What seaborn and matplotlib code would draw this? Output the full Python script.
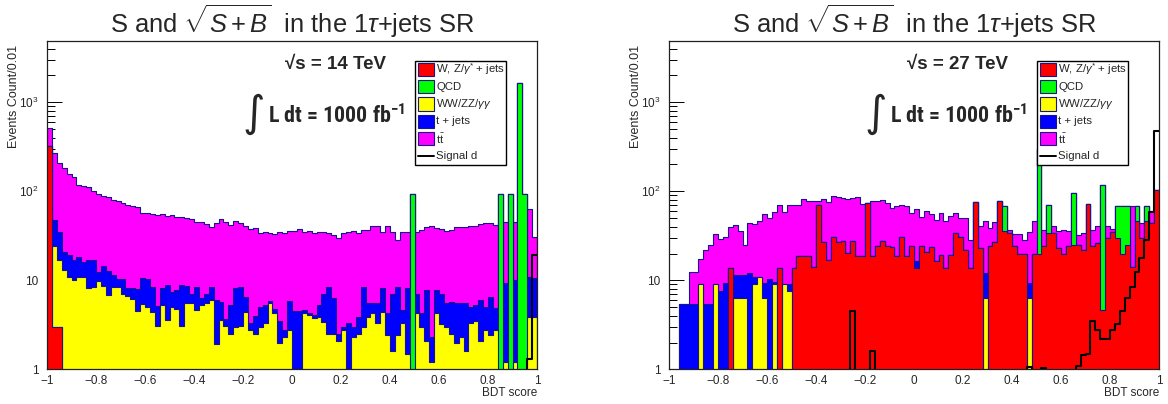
import numpy as np
import pandas as pd
import matplotlib
matplotlib.use('Agg')
import matplotlib.pyplot as plt
from matplotlib import font_manager
from matplotlib.patches import Rectangle
from matplotlib.lines import Line2D
from matplotlib.ticker import FixedLocator, MultipleLocator, LogLocator, NullFormatter
import seaborn as sns

# BDT score binning: 100 bins between -1 and 1
bdt_edges = np.linspace(-1, 1, 101)

process_labels = ['W, Z/$\\gamma^{*}$ + jets', 'QCD', 'WW/ZZ/$\\gamma\\gamma$', 't + jets', 't$\\bar{\\mathrm{t}}$']
process_colors = ['#ff0000', '#00ff00', '#ffff00', '#0000ff', '#ff00ff']
signal_label = 'Signal d'
energies = ['14', '27']
lumi_text = 'L dt = 1000 fb$^{\\mathbf{-1}}$'
title_text = 'S and $\\sqrt{S+B}$  in the 1$\\tau$+jets SR'

# ---- sqrt(s) = 14 TeV ----
wz_14 = [323, 3, 3, 0, 0, 0, 0, 0, 0, 0,
         0, 0, 0, 0, 0, 0, 0, 0, 0, 0,
         0, 0, 0, 0, 0, 0, 0, 0, 0, 0,
         0, 0, 0, 0, 0, 0, 0, 0, 0, 0,
         0, 0, 0, 0, 0, 0, 0, 0, 0, 0,
         0, 0, 0, 0, 0, 0, 0, 0, 0, 0,
         0, 0, 0, 0, 0, 0, 0, 0, 0, 0,
         0, 0, 0, 0, 0, 0, 0, 0, 0, 0,
         0, 0, 0, 0, 0, 0, 0, 0, 0, 0,
         0, 0, 0, 0, 0, 0, 0, 0, 0, 0]
qcd_14 = [0, 0, 0, 0, 0, 0, 0, 0, 0, 0,
          0, 0, 0, 0, 0, 0, 0, 0, 0, 0,
          0, 0, 0, 0, 0, 0, 0, 0, 0, 0,
          0, 0, 0, 0, 0, 0, 0, 0, 0, 0,
          0, 0, 0, 0, 0, 0, 0, 0, 0, 0,
          0, 0, 0, 0, 0, 0, 0, 0, 0, 0,
          0, 0, 0, 0, 0, 0, 0, 0, 0, 0,
          0, 0, 0, 0, 93, 0, 0, 0, 0, 0,
          0, 0, 0, 0, 0, 0, 0, 0, 0, 0,
          0, 0, 93, 0, 93, 0, 1630, 93, 0, 0]
ww_14 = [0, 21, 14, 13, 11, 10, 11, 11, 8.1, 8.5,
         9.7, 8.6, 6.8, 8.5, 8.4, 7.1, 6.7, 6.1, 4.5, 5.4,
         5.0, 4.4, 3.1, 5.3, 3.6, 5.0, 4.8, 3.1, 5.5, 5.5,
         4.6, 5.3, 5.5, 6.0, 1.9, 3.6, 3.1, 2.5, 3.0, 3.1,
         4.4, 2.8, 2.5, 3.0, 3.3, 5.5, 4.3, 2.0, 2.3, 2.8,
         0, 0, 4.3, 4.1, 3.8, 3.9, 3.4, 2.5, 2.5, 2.1,
         2.8, 1.0, 2.3, 2.5, 3.0, 3.9, 4.3, 3.3, 4.4, 2.4,
         1.6, 2.4, 3.3, 1.5, 0, 4.3, 3.0, 2.1, 1.2, 4.3,
         3.2, 3.0, 2.5, 2.0, 2.3, 1.6, 3.3, 3.5, 2.1, 2.8,
         2.4, 2.8, 0, 1.2, 0, 1.2, 0, 0, 3.9, 3.9]
tj_14 = [0, 23, 18, 8, 8, 7, 7.5, 5, 9, 8.5,
         2.8, 6, 6, 3, 2, 3.2, 1.5, 2, 3.4, 5.2,
         5.3, 4.1, 2, 2.8, 5.3, 2.4, 3, 5.8, 3.1, 1.6,
         3.9, 1, 1.6, 2.5, 4.1, 2.1, 0.6, 2.8, 5.1, 5.4,
         2.1, 0.5, 1.5, 2, 2, 0.3, 0.5, 1.5, 0.5, 3.1,
         4.5, 4.5, 0.3, 0.2, 0.3, 1.4, 3.7, 6, 3.8, 0.4,
         0.2, 2.3, 0.7, 1.4, 5.5, 1.6, 1.2, 2.2, 3.7, 1.9,
         5.5, 6.1, 1.3, 6.6, 0, 2.8, 1.3, 5.7, 1.1, 3.5,
         3.9, 2.5, 3.2, 3.5, 3.2, 3.9, 1.75, 1.8, 3.9, 2.25,
         4.1, 2.1, 0, 8.1, 0, 8.8, 0, 0, 7.1, 6.8]
tt_14 = [187, 220, 175, 160, 139, 129, 100, 100, 94, 85,
         80, 75, 74, 68, 67, 63, 62, 60, 58, 47,
         47, 47, 49, 47, 44, 47, 43, 43, 41, 42,
         37, 39, 35.5, 31, 38.5, 43, 42, 37, 38, 35.5,
         34, 34, 35, 29, 29.7, 28.3, 28.4, 31.5, 31, 29.6,
         31, 33.4, 30.4, 31.7, 29.6, 29.7, 27.4, 25.2, 25.7, 27.1,
         30.7, 31.2, 32.6, 30.1, 28.5, 31.5, 35.2, 35.2, 26.9, 36.7,
         27.9, 19.9, 30.4, 26.9, 0, 27.9, 32.7, 32.2, 38.7, 31.2,
         30.9, 30.5, 31.3, 34.5, 34.5, 34.5, 36, 35.7, 37, 39,
         37.5, 37.1, 0, 35.7, 0, 35, 0, 0, 52, 20.3]
sig_14 = [0] * 98 + [1.3, 19]

# ---- sqrt(s) = 27 TeV ----
wz_27 = [0, 0, 0, 0, 0, 0, 0, 0, 0, 0,
         0, 0, 13.6, 0, 0, 0, 0, 0, 0, 0,
         0, 0, 13.6, 0, 0, 13.6, 18.9, 18.9, 18.9, 14.2,
         70, 27.2, 16.9, 30.5, 26.6, 27.3, 20.2, 27.3, 18.8, 18.8,
         74, 18.8, 24, 27.3, 24, 23.6, 18.8, 30.3, 18.8, 24,
         13.7, 24, 21, 23.6, 16.3, 19.4, 13.7, 19.4, 34, 30.5,
         22, 13.7, 75, 23, 0, 24, 26.6, 77, 36, 34,
         24.4, 20, 20, 0, 20, 20, 24, 34, 34, 23,
         20, 24, 25, 25, 22, 72, 24, 26, 4.6, 30,
         35, 30, 20, 25, 14, 46, 30, 46, 44, 104]
qcd_27 = [0, 0, 0, 0, 0, 0, 0, 0, 0, 0,
          0, 0, 0, 0, 0, 0, 0, 0, 0, 0,
          0, 0, 0, 0, 0, 0, 0, 0, 0, 0,
          0, 0, 0, 0, 0, 0, 0, 0, 0, 0,
          0, 0, 0, 0, 0, 0, 0, 0, 0, 0,
          0, 0, 0, 0, 0, 0, 0, 0, 0, 0,
          0, 0, 0, 0, 0, 0, 0, 0, 33, 0,
          0, 0, 0, 0, 0, 280, 0, 36, 0, 0,
          0, 0, 70, 0, 0, 0, 0, 0, 112, 0,
          0, 39, 49, 44, 0, 23, 0, 23, 0, 0]
ww_27 = [0, 0, 0, 0, 0, 0, 9, 0, 0, 9,
         0, 0, 0, 6.4, 6.4, 6.4, 0, 9, 11, 6.3,
         0, 9, 0, 9, 7.6, 0, 0, 0, 0, 0,
         0, 0, 0, 0, 0, 0, 0, 0, 0, 0,
         0, 0, 0, 0, 0, 0, 0, 0, 0, 0,
         0, 0, 0, 0, 0, 0, 0, 0, 0, 0,
         0, 0, 0, 0, 6.4, 0, 0, 0, 0, 0,
         0, 0, 0, 6.3, 0, 0, 0, 0, 0, 0,
         0, 0, 0, 0, 0, 0, 0, 0, 0, 0,
         0, 0, 0, 0, 0, 0, 0, 0, 0, 0]
tj_27 = [0, 0, 5.4, 5.4, 5.4, 5.4, 0, 5.4, 5.4, 0,
         7.5, 9.3, 0, 5, 5, 5, 12, 2, 0, 3,
         10.3, 0.5, 0, 0, 1.5, 0, 0, 0, 0, 0,
         0, 0, 0, 0, 0, 0, 0, 0, 0, 0,
         0, 0, 0, 0, 0, 0, 0, 0, 0, 0,
         2.6, 0, 0, 0, 0, 0, 0, 0, 0, 0,
         0, 0, 0, 0, 5.6, 0, 0, 0, 0, 0,
         0, 0, 0, 3, 0, 0, 0, 0, 0, 0,
         0, 0, 0, 0, 0, 0, 0, 0, 0, 0,
         0, 0, 0, 0, 0, 0, 0, 0, 0, 0]
tt_27 = [0, 0, 0, 0, 7, 7, 8.3, 16.3, 19.3, 24,
         21.8, 21.7, 26.2, 30.5, 24, 13.3, 32.6, 31.7, 35.6, 46.7,
         39.7, 49.3, 56.9, 49.8, 61.4, 57, 51.6, 64, 59, 63.8,
         8, 54.8, 58, 59, 59.4, 56.7, 61.8, 56.7, 67.2, 53.2,
         0, 58.2, 54, 52.7, 50, 41.4, 49.2, 40.2, 49.2, 33,
         46.7, 28, 39, 31.4, 31.7, 37.6, 32.3, 33.6, 23, 19.5,
         28, 14.8, 0, 17.5, 34, 14.6, 18.2, 0, 0, 3,
         8.6, 13, 8.5, 25.7, 26, 0, 13, 0, 7, 13,
         17, 12, 0, 7, 12, 0, 13, 15, 0, 11,
         3, 0, 0, 0, 55, 0, 14, 0, 16, 0]
sig_27 = [0, 0, 0, 0, 0, 0, 0, 0, 0, 0,
          0, 0, 0, 0, 0, 0, 0, 0, 0, 0,
          0, 0, 0, 0, 0, 0, 0, 0, 0, 0,
          0, 0, 0, 0, 0, 0, 0, 4.5, 0, 0,
          0, 1.6, 0, 0, 0, 0, 0, 0, 0, 0,
          0, 0, 0, 0, 0, 0, 0, 0, 0, 0,
          0, 0, 0, 0, 0, 0, 0, 0, 0, 0,
          0, 0, 0, 1.05, 0, 0, 1.03, 0, 0, 0,
          0, 0, 0, 1.1, 1.45, 1.5, 3.5, 2.8, 2.2, 2.2,
          2.8, 3.2, 4.5, 6.3, 8.5, 12.5, 18, 28, 58, 480]

OUTLINE = '#16168c'
W, H = 1168, 404
AX_W, AX_H = 490, 328.6
AX_BOTTOM = 369.3

# the luminosity line in the reference uses a condensed bold face
installed = {f.name for f in font_manager.fontManager.ttflist}
LUMI_FONT, LUMI_SIZE = 'Liberation Sans', 13
for name, size in [('Roboto Condensed', 15.8), ('Liberation Sans Narrow', 15.5),
                   ('Open Sans Condensed', 15.5)]:
    if name in installed:
        LUMI_FONT, LUMI_SIZE = name, size
        break


def to_axes(x_px, y_px):
    # pixel offset from the frame's left edge / image top -> axes coords
    return x_px / AX_W, (AX_BOTTOM - y_px) / AX_H


def draw_panel(ax, series, signal, energy):
    centers = bdt_edges[:-1] + 0.01
    bins = list(bdt_edges)
    stack = np.cumsum(np.array(series, dtype=float), axis=0)

    # ROOT THStack style: running sums drawn from the biggest down, each from zero
    for level, color in reversed(list(zip(stack, process_colors))):
        df = pd.DataFrame({'score': centers, 'w': level})
        sns.histplot(data=df, x='score', weights='w', bins=bins, element='step', fill=True,
                     facecolor=color, edgecolor=OUTLINE, linewidth=0.8, alpha=1, ax=ax)

    df = pd.DataFrame({'score': centers, 'w': signal})
    sns.histplot(data=df, x='score', weights='w', bins=bins, element='step', fill=False,
                 color='black', linewidth=1.5, ax=ax)

    ax.set_yscale('log')
    ax.set_xlim(-1, 1)
    ax.set_ylim(1, 4920)

    # ticks
    ax.xaxis.set_major_locator(FixedLocator(np.linspace(-1, 1, 11)))
    ax.set_xticklabels(['\u22121', '\u22120.8', '\u22120.6', '\u22120.4', '\u22120.2', '0',
                        '0.2', '0.4', '0.6', '0.8', '1'])
    ax.xaxis.set_minor_locator(MultipleLocator(0.05))
    ax.yaxis.set_major_locator(FixedLocator([1, 10, 100, 1000]))
    ax.set_yticklabels(['1', '10', '$10^{2}$', '$10^{3}$'])
    ax.yaxis.set_minor_locator(LogLocator(base=10, subs=np.arange(2, 10)))
    ax.yaxis.set_minor_formatter(NullFormatter())
    ax.tick_params(axis='both', which='both', direction='in', labelsize=8.5,
                   top=False, right=False, width=0.7, color='black')
    ax.tick_params(axis='y', which='major', length=10.8, pad=6)
    ax.tick_params(axis='y', which='minor', length=5.4)
    ax.tick_params(axis='x', which='major', length=6.5, pad=4)
    ax.tick_params(axis='x', which='minor', length=3.2)
    for sp in ax.spines.values():
        sp.set_visible(True)
        sp.set_linewidth(0.9)
        sp.set_color('#202020')

    ax.set_xlabel('')
    ax.set_ylabel('')
    ax.text(1.0, -0.073, 'BDT score', transform=ax.transAxes, ha='right', va='center',
            fontsize=8.5)
    ax.text(-0.067, 0.987, 'Events Count/0.01', transform=ax.transAxes, rotation=90,
            ha='center', va='top', fontsize=9)

    # energy and luminosity labels
    x, y = to_axes(238, 69)
    ax.text(x, y, '\u221as = %s TeV' % energy, transform=ax.transAxes, fontsize=13.5,
            fontweight='bold', ha='left', va='baseline')
    x, y = to_axes(207, 114)
    ax.text(x, y, '\u222b', transform=ax.transAxes, fontsize=31, ha='center', va='center',
            family=['DejaVu Sans'], fontweight='normal')
    x, y = to_axes(221, 123)
    ax.text(x, y, lumi_text, transform=ax.transAxes, fontsize=LUMI_SIZE, fontweight='bold',
            ha='left', va='baseline', family=[LUMI_FONT, 'DejaVu Sans'])

    # legend box, drawn by hand like a ROOT TLegend
    x0, y1 = to_axes(367.5, 60.5)
    x1, y0 = to_axes(458.5, 164.5)
    ax.add_patch(Rectangle((x0, y0), x1 - x0, y1 - y0, transform=ax.transAxes,
                           facecolor='white', edgecolor='black', linewidth=1,
                           clip_on=False, zorder=10))
    rows = process_labels + [signal_label]
    for k, label in enumerate(rows):
        yc = 69.3 + 17.3 * k
        px, py = to_axes(370.5, yc + 6.6)
        pw = 16 / AX_W
        ph = 13.2 / AX_H
        if k < len(process_colors):
            ax.add_patch(Rectangle((px, py), pw, ph, transform=ax.transAxes,
                                   facecolor=process_colors[k], edgecolor=OUTLINE,
                                   linewidth=0.8, clip_on=False, zorder=11))
        else:
            ly = to_axes(0, yc)[1]
            ax.add_line(Line2D([px, px + pw], [ly, ly], transform=ax.transAxes,
                               color='black', linewidth=1.4, clip_on=False, zorder=11))
        tx, ty = to_axes(389.5, yc)
        ax.text(tx, ty, label, transform=ax.transAxes, fontsize=8.2, ha='left',
                va='center', zorder=12)


sns.set_style('ticks')
plt.rcParams['font.family'] = ['Liberation Sans', 'DejaVu Sans']
plt.rcParams['mathtext.fontset'] = 'custom'
plt.rcParams['mathtext.rm'] = 'Liberation Sans'
plt.rcParams['mathtext.it'] = 'Liberation Sans:italic'
plt.rcParams['mathtext.bf'] = LUMI_FONT + ':bold'
plt.rcParams['axes.unicode_minus'] = True

fig = plt.figure(figsize=(W / 100, H / 100), dpi=100)
fig.patch.set_facecolor('white')

panels = [
    (47, [wz_14, qcd_14, ww_14, tj_14, tt_14], sig_14, energies[0]),
    (669, [wz_27, qcd_27, ww_27, tj_27, tt_27], sig_27, energies[1]),
]
for left_px, series, signal, energy in panels:
    ax = fig.add_axes([left_px / W, 1 - AX_BOTTOM / H, AX_W / W, AX_H / H])
    draw_panel(ax, series, signal, energy)
    fig.text((left_px + AX_W / 2) / W, 1 - 21 / H, title_text, ha='center', va='center',
             fontsize=18.4)

fig.savefig('out.png', dpi=100, facecolor='white')
